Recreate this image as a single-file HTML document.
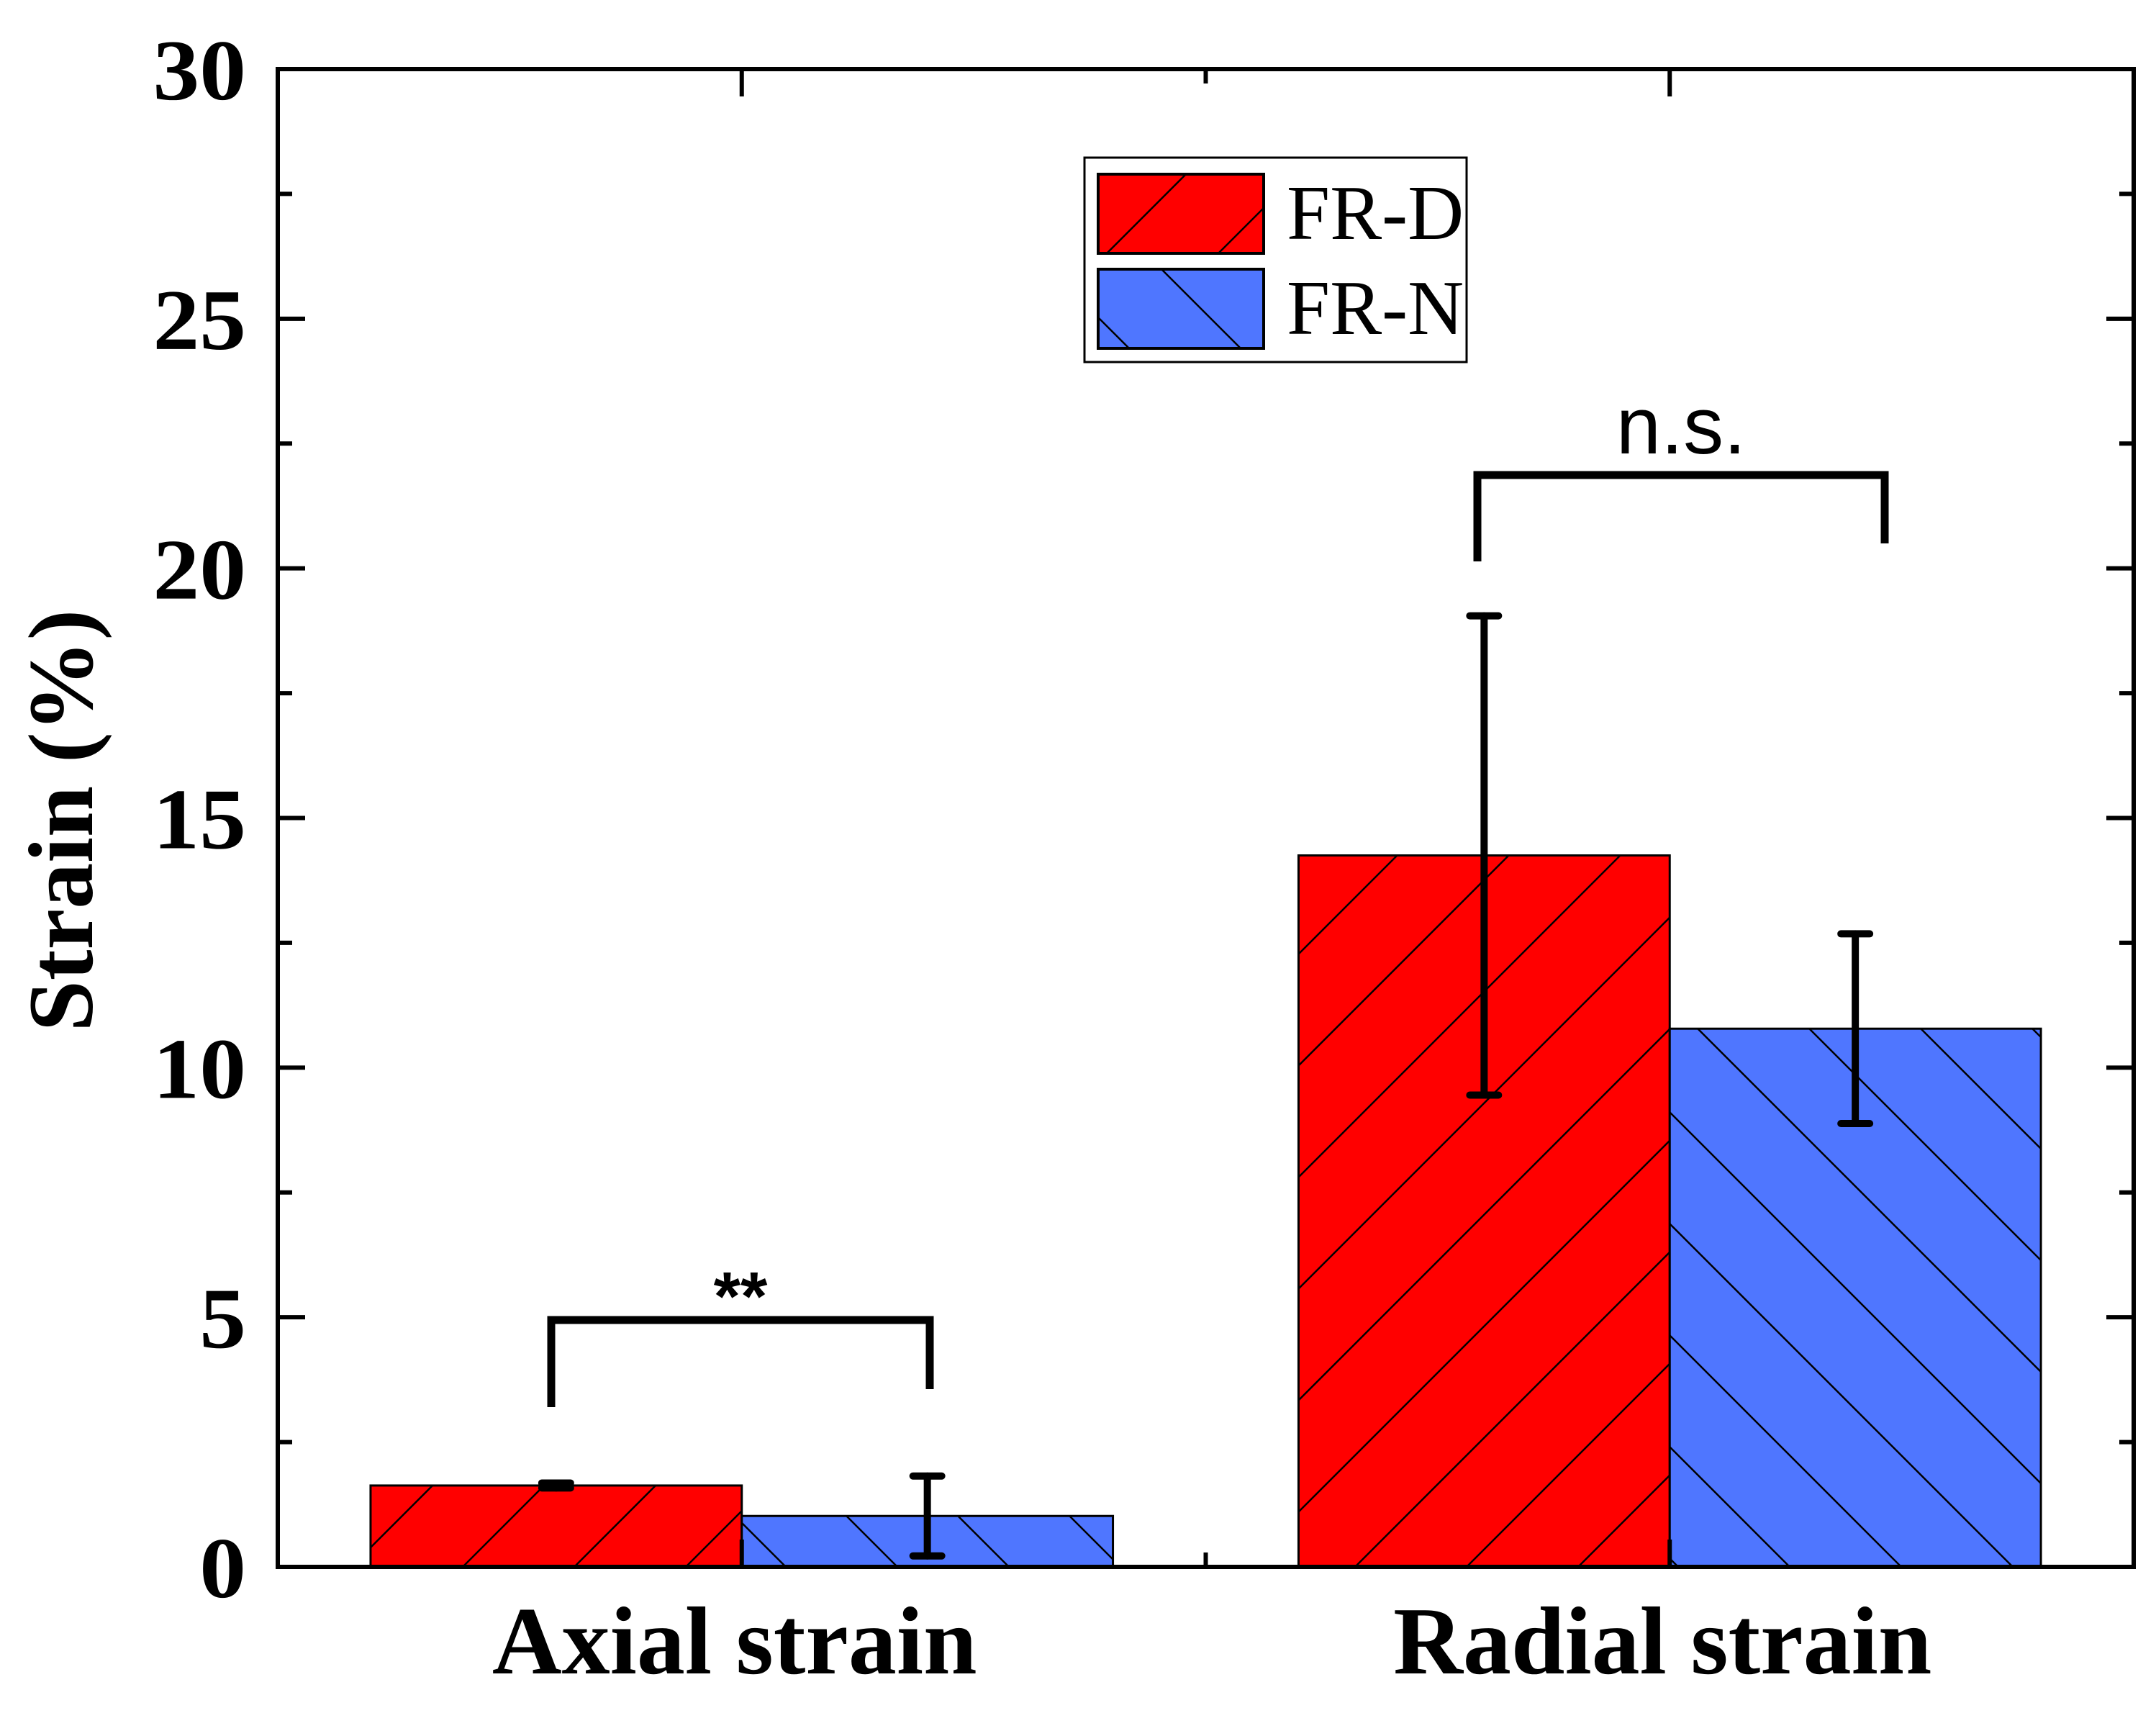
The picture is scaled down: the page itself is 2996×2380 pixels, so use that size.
<!DOCTYPE html>
<html><head><meta charset="utf-8"><style>
html,body{margin:0;padding:0;background:#fff;}
svg{display:block;}
</style></head><body>
<svg id="chart" width="2996" height="2380" viewBox="0 0 2996 2380" xmlns="http://www.w3.org/2000/svg">
<defs>
<pattern id="hatchD" patternUnits="userSpaceOnUse" width="155" height="155" patternTransform="translate(0,30)">
<rect width="155" height="155" fill="#ff0000"/>
<path d="M0,155 L155,0 M-20,20 L20,-20 M135,175 L175,135" stroke="#000" stroke-width="2.5"/>
</pattern>
<pattern id="hatchN" patternUnits="userSpaceOnUse" width="155" height="155">
<rect width="155" height="155" fill="#4f76ff"/>
<path d="M0,0 L155,155 M-20,135 L20,175 M135,-20 L175,20" stroke="#000" stroke-width="2.5"/>
</pattern>
</defs>
<g id="plot"></g>
</svg>
<script>
const categories = ["Axial strain", "Radial strain"];
const seriesNames = ["FR-D", "FR-N"];
const frdValues = [1.63, 14.25];
const frdErrors = [0.05, 4.8];
const frnValues = [1.02, 10.78];
const frnErrors = [0.8, 1.9];
const yTicks = [0, 5, 10, 15, 20, 25, 30];
const yTickLabels = ["0", "5", "10", "15", "20", "25", "30"];

const NS = "http://www.w3.org/2000/svg";
const L = 386, R = 2965, T = 96, B = 2177;
const xMin = 0.5, xMax = 2.5, yMin = 0, yMax = 30;
function xs(v){ return L + (v - xMin) / (xMax - xMin) * (R - L); }
function ys(v){ return B - (v - yMin) / (yMax - yMin) * (B - T); }
const g = document.getElementById('plot');
function mk(tag, attrs, parent){
  const e = document.createElementNS(NS, tag);
  for (const k in attrs) e.setAttribute(k, attrs[k]);
  (parent || g).appendChild(e);
  return e;
}
const barW = 0.4;

const series = [
  {vals: frdValues, errs: frdErrors, fill: 'url(#hatchD)', off: -barW/2, key: 'frd'},
  {vals: frnValues, errs: frnErrors, fill: 'url(#hatchN)', off: barW/2, key: 'frn'}
];
series.forEach(s => {
  s.vals.forEach((v, i) => {
    const cx = i + 1 + s.off;
    const r = mk('rect', {x: xs(cx - barW/2), y: ys(v), width: xs(cx + barW/2) - xs(cx - barW/2), height: ys(0) - ys(v), fill: s.fill, stroke: '#000', 'stroke-width': 3});
    
    
  });
});
series.forEach(s => {
  s.vals.forEach((v, i) => {
    const x = xs(i + 1 + s.off);
    const eg = mk('g', {stroke: '#000', 'stroke-width': 10, 'stroke-linecap': 'round'});
    
    
    const hi = ys(v + s.errs[i]), lo = ys(v - s.errs[i]);
    mk('line', {x1: x, y1: hi, x2: x, y2: lo}, eg);
    mk('line', {x1: x - 20, y1: hi, x2: x + 20, y2: hi}, eg);
    mk('line', {x1: x - 20, y1: lo, x2: x + 20, y2: lo}, eg);
  });
});

const frame = mk('rect', {x: L, y: T, width: R - L, height: B - T, fill: 'none', stroke: '#000', 'stroke-width': 6});



yTicks.forEach((t, i) => {
  const y = ys(t);
  [[L, 1], [R, -1]].forEach(([x0, d]) => mk('line', {x1: x0, y1: y, x2: x0 + d * 38, y2: y, stroke: '#000', 'stroke-width': 6}));
  if (i < yTicks.length - 1) {
    const ym = ys(t + 2.5);
    [[L, 1], [R, -1]].forEach(([x0, d]) => mk('line', {x1: x0, y1: ym, x2: x0 + d * 20, y2: ym, stroke: '#000', 'stroke-width': 6}));
  }
  const tx = mk('text', {x: 342, y: y + 42, 'text-anchor': 'end', 'font-family': 'Liberation Serif, serif', 'font-weight': 'bold', 'font-size': 120, transform: `translate(342,0) scale(1.08,1) translate(-342,0)`});
  tx.textContent = yTickLabels[i];
  
  
});
[1, 1.5, 2].forEach(v => {
  const len = (v === 1.5) ? 20 : 38;
  mk('line', {x1: xs(v), y1: B, x2: xs(v), y2: B - len, stroke: '#000', 'stroke-width': 6});
  mk('line', {x1: xs(v), y1: T, x2: xs(v), y2: T + len, stroke: '#000', 'stroke-width': 6});
});
categories.forEach((c, i) => {
  const tx = mk('text', {x: xs(i + 1) - 10, y: 2325, 'text-anchor': 'middle', 'font-family': 'Liberation Serif, serif', 'font-weight': 'bold', 'font-size': 134});
  tx.textContent = c;
  
  
});
const yt = mk('text', {x: 0, y: 0, transform: 'translate(128,1140) rotate(-90)', 'text-anchor': 'middle', 'font-family': 'Liberation Serif, serif', 'font-weight': 'bold', 'font-size': 128});
yt.textContent = 'Strain (%)';



function bracket(x1, y1, x2, y2, yTop, label, size, dy, name){
  const bg = mk('g', {});
  
  
  mk('polyline', {points: `${x1},${y1} ${x1},${yTop} ${x2},${yTop} ${x2},${y2}`, fill: 'none', stroke: '#000', 'stroke-width': 11}, bg);
  const t = mk('text', {x: (x1 + x2) / 2, y: yTop - dy, 'text-anchor': 'middle', 'font-family': 'Liberation Sans, sans-serif', 'font-size': size, 'font-weight': label === '**' ? 'bold' : 'normal'}, bg);
  t.textContent = label;
}
bracket(766, 1955, 1292, 1930, 1834, '**', 96, 0, 'significance-axial');
bracket(2053, 780, 2619, 755, 660, 'n.s.', 112, 30, 'significance-radial');

const lg = mk('g', {});


mk('rect', {x: 1507, y: 219, width: 531, height: 284, fill: '#fff', stroke: '#000', 'stroke-width': 3}, lg);
[['url(#hatchD)', 242, seriesNames[0]], ['url(#hatchN)', 374, seriesNames[1]]].forEach(([f, y, n]) => {
  const e = mk('g', {}, lg);
  
  
  mk('rect', {x: 1526, y: y, width: 230, height: 110, fill: f, stroke: '#000', 'stroke-width': 4}, e);
  const t = mk('text', {x: 1788, y: y + 90, 'font-family': 'Liberation Serif, serif', 'font-size': 108}, e);
  t.textContent = n;
});
</script>
</body></html>
